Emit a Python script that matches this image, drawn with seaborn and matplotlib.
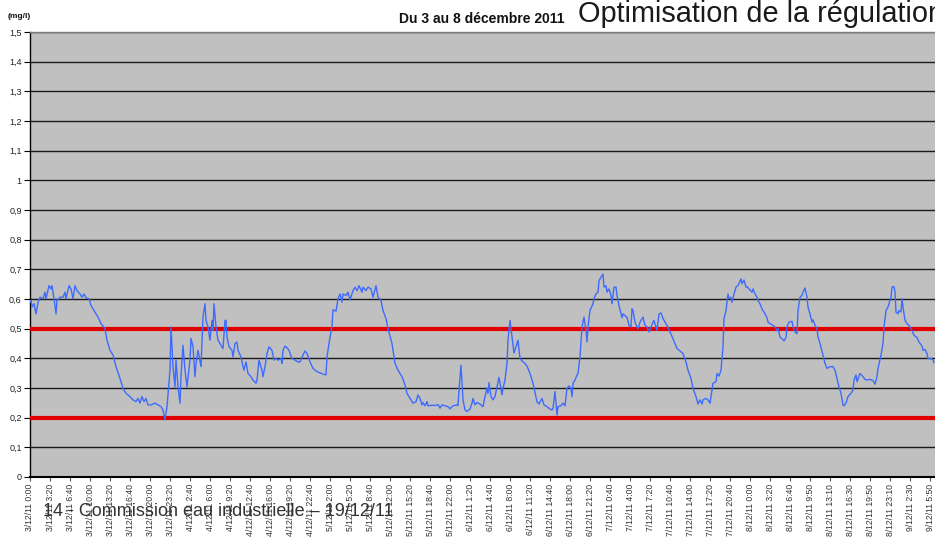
import matplotlib
matplotlib.use('Agg')
import matplotlib.pyplot as plt
import seaborn as sns
import pandas as pd
import numpy as np

# ---- data (10-minute samples, index = sample number from 3/12/11 0:00) ----
sample_idx = [
    0, 1, 2, 4, 6, 8, 10, 13, 15, 16, 19, 21, 22, 24, 26, 27, 30, 33, 35, 36, 39, 41, 43, 45, 47, 50, 52, 54, 56, 59,
    61, 64, 68, 71, 75, 77, 80, 83, 86, 90, 93, 96, 100, 103, 106, 108, 110, 112, 114, 116, 118, 121, 125, 128, 131,
    133, 135, 137, 140, 141, 143, 145, 146, 148, 150, 151, 153, 155, 157, 160, 161, 163, 165, 166, 168, 171, 173, 175,
    176, 178, 180,
    182, 183, 184, 186, 188, 191, 193, 195, 196, 197, 199, 202, 203, 205, 207, 208, 211, 213, 214, 216, 218, 221, 223,
    226, 227, 229, 232, 233, 235, 237, 239, 242, 244, 246, 248, 251, 252, 253, 255, 257, 259, 262, 265, 268, 270, 273,
    275, 277, 280, 283, 287, 290, 293, 296, 297, 299, 302, 303, 306, 308, 310, 312, 313, 316, 318, 320, 323, 325, 327,
    329, 332, 333, 336, 338, 341, 343, 346, 348, 351, 353, 356, 358, 362,
    365, 368, 372, 375, 377, 380, 383, 386, 388, 390, 392, 393, 395, 397, 398, 402, 405, 408, 410, 412, 415, 418, 420,
    423, 427, 428, 429, 431, 433, 435, 437, 440, 442, 443, 445, 447, 450, 453, 455, 457, 458, 459, 461, 463, 465, 467,
    469, 472, 473, 475, 477, 478, 480, 482, 484, 486, 488, 490, 493, 495, 497, 500, 503, 507, 509, 512, 514, 517, 520,
    522, 523, 525, 527, 528, 531, 533, 535, 537, 539, 541, 542,
    543, 545, 547, 548, 550, 552, 554, 556, 557, 558, 560, 563, 564, 566, 568, 569, 571, 573, 574, 576, 577, 579, 581,
    582, 584, 586, 587, 589, 592, 593, 596, 597, 599, 601, 602, 603, 605, 607, 608, 610, 612, 613, 615, 617, 619, 621,
    623, 624, 626, 627, 629, 631, 633, 637, 640, 643, 647, 650, 653, 656, 658, 661, 663, 666, 668, 670, 672, 673, 676,
    678, 680, 682, 683, 686, 687, 689, 691, 693, 694, 696, 698, 699, 701, 702, 704, 706, 708, 711, 712, 714, 716, 717,
    719,
    722, 723, 725, 727, 728, 730, 732, 733, 735, 737, 738, 740, 743, 745, 747, 748, 750, 752, 754, 756, 757, 759, 762,
    763, 765, 767, 768, 770, 772, 773, 775, 777, 778, 780, 782, 783, 785, 787, 788, 790, 793, 795, 797, 800, 803, 805,
    807, 809, 811, 813, 814, 816, 818, 821, 823, 824, 826, 827, 830, 833, 835, 837, 840, 843, 845, 847, 848, 851, 853,
    854, 856, 858, 859, 861, 862, 864, 865, 866, 868, 869, 871, 872, 873, 875, 877, 879, 882, 884, 887, 889, 892, 893,
    895, 897, 898, 901, 903, 904,
]

concentration = [
    0.590, 0.595, 0.573, 0.584, 0.550, 0.589, 0.606, 0.601, 0.623, 0.601, 0.645, 0.634, 0.645, 0.601, 0.550, 0.595,
    0.606, 0.606, 0.623, 0.601, 0.645, 0.634, 0.601, 0.645, 0.628, 0.617, 0.606, 0.617, 0.604, 0.601,
    0.578, 0.561, 0.539, 0.517, 0.500, 0.461, 0.427, 0.411, 0.372, 0.332, 0.299, 0.282, 0.271, 0.260, 0.254, 0.265,
    0.249, 0.271, 0.254, 0.265, 0.243, 0.243, 0.249, 0.243, 0.237,
    0.226, 0.193, 0.237, 0.360, 0.506, 0.372, 0.304, 0.394, 0.304, 0.249, 0.338, 0.444, 0.360, 0.304, 0.394, 0.467,
    0.439, 0.338, 0.383, 0.427, 0.372, 0.539, 0.584,
    0.528, 0.506, 0.461,
    0.528, 0.494, 0.584, 0.506, 0.461, 0.444, 0.433, 0.528, 0.528, 0.472, 0.439, 0.427, 0.405, 0.450, 0.455, 0.427,
    0.405, 0.372, 0.360, 0.388, 0.349, 0.338, 0.327,
    0.316, 0.327, 0.394, 0.360, 0.338, 0.372, 0.416, 0.439, 0.427, 0.394, 0.399, 0.394, 0.399, 0.383, 0.427, 0.441,
    0.436, 0.427, 0.399, 0.394, 0.388, 0.388, 0.411,
    0.425, 0.416, 0.388, 0.366, 0.355, 0.351, 0.347, 0.344, 0.405, 0.450, 0.511, 0.564, 0.559, 0.601, 0.617, 0.589,
    0.617, 0.612, 0.623, 0.597, 0.628, 0.640, 0.628,
    0.645, 0.623, 0.640, 0.628, 0.640, 0.634, 0.606, 0.645, 0.606, 0.595, 0.561, 0.534, 0.500, 0.450,
    0.383, 0.360, 0.338, 0.310, 0.282, 0.265, 0.249, 0.254, 0.277, 0.265, 0.243, 0.251, 0.240, 0.254, 0.240, 0.242,
    0.241, 0.244, 0.232, 0.243, 0.240, 0.237, 0.230,
    0.240, 0.243, 0.241, 0.293, 0.377, 0.260, 0.226, 0.221, 0.229, 0.249, 0.265, 0.243, 0.251, 0.246, 0.237, 0.271,
    0.299, 0.282, 0.318, 0.271, 0.260, 0.271, 0.304,
    0.336, 0.277, 0.299, 0.327, 0.383, 0.461, 0.528, 0.472, 0.418, 0.439, 0.461, 0.399, 0.388, 0.383, 0.374, 0.349,
    0.316, 0.254, 0.246, 0.265, 0.243, 0.237, 0.229,
    0.226, 0.232, 0.288, 0.209, 0.237, 0.240, 0.249, 0.240, 0.299, 0.307, 0.299, 0.271,
    0.316, 0.327, 0.344, 0.349, 0.405, 0.506, 0.539, 0.494, 0.455, 0.506, 0.561, 0.584, 0.601, 0.617, 0.623, 0.662,
    0.673, 0.684, 0.640, 0.645, 0.623, 0.634, 0.612,
    0.584, 0.640, 0.640, 0.612, 0.578, 0.537, 0.550, 0.541, 0.539, 0.511, 0.506, 0.567, 0.561, 0.522, 0.506, 0.500,
    0.522, 0.534, 0.539, 0.511, 0.506, 0.489, 0.506,
    0.522, 0.528, 0.506, 0.494, 0.550, 0.553, 0.534, 0.511, 0.489, 0.466, 0.433, 0.425, 0.416, 0.388, 0.360, 0.332,
    0.299, 0.271, 0.246, 0.260, 0.246, 0.260, 0.265,
    0.260, 0.249, 0.293, 0.316, 0.321, 0.349, 0.340, 0.360, 0.439, 0.534, 0.561, 0.617, 0.601, 0.606, 0.589, 0.617,
    0.640, 0.645, 0.668, 0.651, 0.664, 0.640, 0.642,
    0.634,
    0.623, 0.634, 0.617, 0.606, 0.595, 0.584, 0.567, 0.561, 0.550, 0.537, 0.522, 0.517, 0.511, 0.506, 0.494, 0.500,
    0.472, 0.466, 0.459, 0.470, 0.506, 0.522, 0.525,
    0.506, 0.489, 0.483, 0.561, 0.606, 0.612, 0.623, 0.637, 0.606, 0.573, 0.550, 0.522, 0.530, 0.511, 0.500, 0.472,
    0.450, 0.411, 0.383, 0.366, 0.372, 0.372, 0.360,
    0.332, 0.304, 0.282, 0.243, 0.240, 0.249, 0.271, 0.282, 0.293, 0.327, 0.344, 0.321, 0.349, 0.338, 0.329, 0.327,
    0.329, 0.325, 0.313, 0.338, 0.366, 0.411, 0.450,
    0.506, 0.561, 0.573, 0.584, 0.606, 0.640, 0.642, 0.623, 0.556, 0.550, 0.561, 0.556, 0.601, 0.573, 0.528, 0.517,
    0.511, 0.494, 0.478, 0.470, 0.455, 0.441, 0.427,
    0.430, 0.416, 0.399, 0.399, 0.396, 0.385,
]

thresholds = [0.5, 0.2]

x_tick_labels = [
    "3/12/11 0:00", "3/12/11 3:20", "3/12/11 6:40", "3/12/11 10:00", "3/12/11 13:20", "3/12/11 16:40",
    "3/12/11 20:00", "3/12/11 23:20", "4/12/11 2:40", "4/12/11 6:00", "4/12/11 9:20", "4/12/11 12:40",
    "4/12/11 16:00", "4/12/11 19:20", "4/12/11 22:40", "5/12/11 2:00", "5/12/11 5:20", "5/12/11 8:40",
    "5/12/11 12:00", "5/12/11 15:20", "5/12/11 18:40", "5/12/11 22:00", "6/12/11 1:20", "6/12/11 4:40",
    "6/12/11 8:00", "6/12/11 11:20", "6/12/11 14:40", "6/12/11 18:00", "6/12/11 21:20", "7/12/11 0:40",
    "7/12/11 4:00", "7/12/11 7:20", "7/12/11 10:40", "7/12/11 14:00", "7/12/11 17:20", "7/12/11 20:40",
    "8/12/11 0:00", "8/12/11 3:20", "8/12/11 6:40", "8/12/11 9:50", "8/12/11 13:10", "8/12/11 16:30",
    "8/12/11 19:50", "8/12/11 23:10", "9/12/11 2:30", "9/12/11 5:50",
]
samples_per_label = 20

y_ticks = [0, 0.1, 0.2, 0.3, 0.4, 0.5, 0.6, 0.7, 0.8, 0.9, 1.0, 1.1, 1.2, 1.3, 1.4, 1.5]
y_tick_labels = ["0", "0,1", "0,2", "0,3", "0,4", "0,5", "0,6", "0,7", "0,8", "0,9",
                 "1", "1,1", "1,2", "1,3", "1,4", "1,5"]

# ---- styling ----
sns.set_theme(style='white')
plt.rcParams['font.family'] = ['Liberation Sans', 'DejaVu Sans']

W, H = 935, 542
fig = plt.figure(figsize=(W / 100, H / 100), dpi=100)
fig.patch.set_facecolor('white')
ax = fig.add_axes([30 / W, 65 / H, 920 / W, 445 / H])
ax.set_facecolor('#C0C0C0')

df = pd.DataFrame({'idx': sample_idx, 'val': concentration})

for t in thresholds:
    ax.axhline(t, color='#E00000', lw=3.0, zorder=3)

sns.lineplot(data=df, x='idx', y='val', ax=ax, color='#3D6BFF', lw=1.0, zorder=4)

ax.set_xlim(0, 920)
ax.set_ylim(0, 1.5)
ax.set_xlabel('')
ax.set_ylabel('')

ax.set_yticks(y_ticks)
ax.set_yticklabels(y_tick_labels, fontsize=6.5, color='#222222')
ax.yaxis.grid(True, color='#1a1a1a', lw=1.0, zorder=1)
ax.set_axisbelow(True)

ax.set_xticks([i * samples_per_label for i in range(len(x_tick_labels))])
ax.set_xticklabels(x_tick_labels, rotation=90, fontsize=6.2, color='#333333')

ax.tick_params(axis='y', direction='out', length=4, width=0.8, color='black', pad=2, left=True)
ax.tick_params(axis='x', direction='out', length=3, width=0.8, color='#555555', pad=2, bottom=True)

ax.spines['right'].set_visible(False)
ax.spines['left'].set_color('black')
ax.spines['left'].set_linewidth(1.0)
ax.spines['bottom'].set_color('black')
ax.spines['bottom'].set_linewidth(1.5)
ax.spines['top'].set_color('#808080')
ax.spines['top'].set_linewidth(1.0)

# ---- texts ----
fig.text(8 / W, 1 - 16 / H, '(mg/l)', fontsize=6, weight='bold', va='center', color='#111111')
fig.text(482 / W, 1 - 19 / H, 'Du 3 au 8 décembre 2011', fontsize=10, weight='bold',
         ha='center', va='center', color='#111111')
fig.text(578 / W, 1 - 14 / H, 'Optimisation de la régulation', fontsize=20.8, va='center', color='#1a1a1a')
fig.text(43 / W, 1 - 511 / H, '14 - Commission eau industrielle – 19/12/11', fontsize=13,
         va='center', color='#333333', zorder=10)

fig.savefig('out.png', dpi=100, facecolor='white')
